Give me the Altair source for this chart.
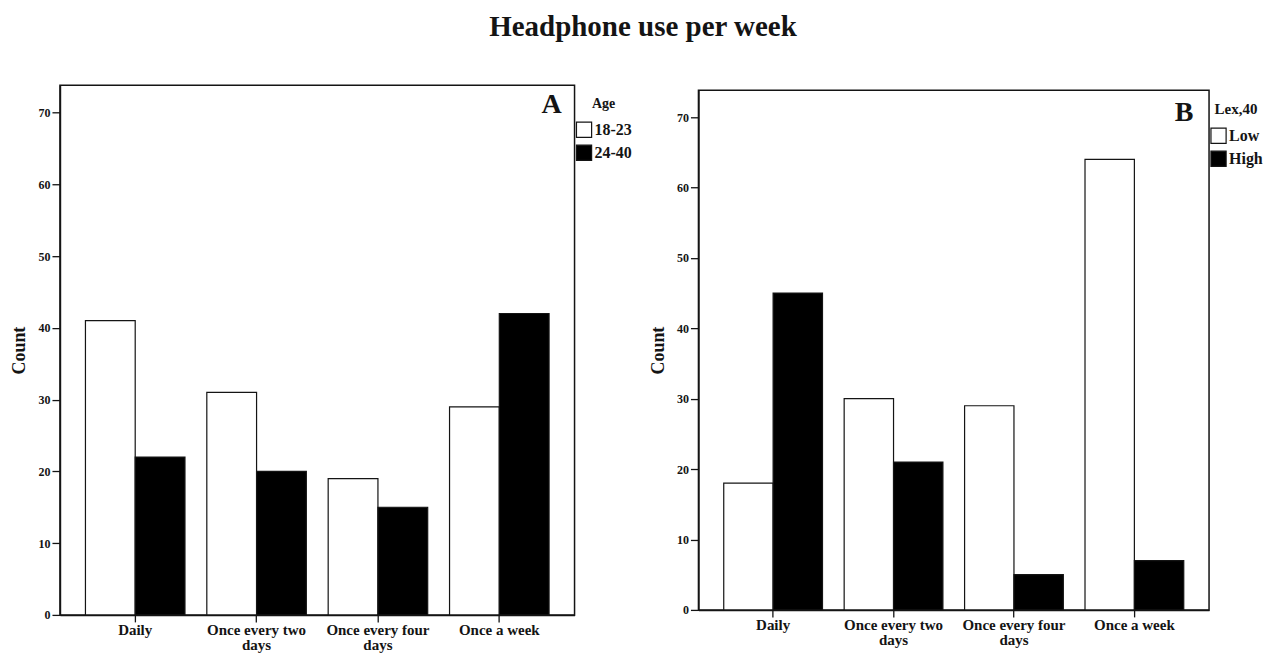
import altair as alt
import pandas as pd

categories = ["Daily", "Once every two days", "Once every four days", "Once a week"]

age_groups = ["18-23", "24-40"]
age_18_23 = [41, 31, 19, 29]
age_24_40 = [22, 20, 15, 42]

lex_groups = ["Low", "High"]
lex_low = [18, 30, 29, 64]
lex_high = [45, 21, 5, 7]

y_ticks = [0, 10, 20, 30, 40, 50, 60, 70]

FONT = "Liberation Serif"
INK = "#141414"

dfA = pd.DataFrame(
    [{"cat": c, "group": age_groups[0], "count": v} for c, v in zip(categories, age_18_23)]
    + [{"cat": c, "group": age_groups[1], "count": v} for c, v in zip(categories, age_24_40)]
)
dfB = pd.DataFrame(
    [{"cat": c, "group": lex_groups[0], "count": v} for c, v in zip(categories, lex_low)]
    + [{"cat": c, "group": lex_groups[1], "count": v} for c, v in zip(categories, lex_high)]
)

label_expr = ("indexof(datum.label, ' days') > 0 ? "
              "[replace(datum.label, ' days', ''), 'days'] : datum.label")


def panel(df, groups, legend_title, letter, w, h, letter_x, letter_y, title_size, leg_y):
    base = alt.Chart(df)
    bars = base.mark_bar(stroke=INK, strokeWidth=1.2).encode(
        x=alt.X(
            "cat:N",
            sort=categories,
            title=None,
            scale=alt.Scale(paddingInner=0.18, paddingOuter=0.21),
            axis=alt.Axis(
                labelAngle=0,
                labelExpr=label_expr,
                labelFont=FONT,
                labelFontSize=15,
                labelFontWeight="bold",
                labelColor=INK,
                labelLimit=300,
                labelPadding=1,
                labelLineHeight=15,
                tickSize=7,
                tickColor=INK,
                tickWidth=1.3,
                domainColor=INK,
                domainWidth=1.5,
                grid=False,
            ),
        ),
        xOffset=alt.XOffset("group:N", sort=groups,
                            scale=alt.Scale(paddingInner=0, paddingOuter=0)),
        y=alt.Y(
            "count:Q",
            title="Count",
            scale=alt.Scale(domain=[0, 73.8], nice=False),
            axis=alt.Axis(
                values=y_ticks,
                labelFont=FONT,
                labelFontSize=12,
                labelFontWeight="bold",
                labelColor=INK,
                labelPadding=2,
                tickSize=8,
                tickColor=INK,
                tickWidth=1.3,
                domainColor=INK,
                domainWidth=1.5,
                grid=False,
                titleFont=FONT,
                titleFontSize=18,
                titleFontWeight="bold",
                titleColor=INK,
                titlePadding=9,
            ),
        ),
        fill=alt.Fill(
            "group:N",
            sort=groups,
            scale=alt.Scale(domain=groups, range=["white", "black"]),
            legend=alt.Legend(
                title=legend_title,
                orient="none",
                legendX=w + 1,
                legendY=leg_y,
                titleAnchor="middle",
                titleFont=FONT,
                titleFontSize=title_size,
                titleFontWeight="bold",
                titleColor=INK,
                titlePadding=10,
                labelFont=FONT,
                labelFontSize=16,
                labelFontWeight="bold",
                labelColor=INK,
                labelOffset=2,
                symbolType="square",
                symbolSize=230,
                symbolStrokeColor=INK,
                symbolStrokeWidth=1.2,
                symbolOpacity=1,
                rowPadding=2,
            ),
        ),
    )
    txt = alt.Chart(pd.DataFrame({"t": [letter]})).mark_text(
        font=FONT, fontSize=28, fontWeight="bold", color=INK,
        align="center", baseline="middle",
    ).encode(text="t:N", x=alt.value(letter_x), y=alt.value(letter_y))
    return alt.layer(bars, txt).properties(width=w, height=h)


left = panel(dfA, age_groups, "Age", "A", 515, 530, 492, 20, 14, 12)
right = panel(dfB, lex_groups, "Lex,40", "B", 511, 520, 486, 23, 15, 12)

chart = alt.hconcat(left, right, spacing=15, center=True).resolve_scale(
    fill="independent", xOffset="independent", x="independent", y="independent"
).properties(
    padding={"left": 2, "top": 4, "right": 2, "bottom": 0},
    title=alt.TitleParams(
        "Headphone use per week",
        font=FONT, fontSize=29, fontWeight="bold", color=INK,
        anchor="middle", offset=43, dx=6,
    ),
).configure_view(stroke=INK, strokeWidth=1.5)

chart.save("out.html", embed_options={"renderer": "svg", "actions": False})
